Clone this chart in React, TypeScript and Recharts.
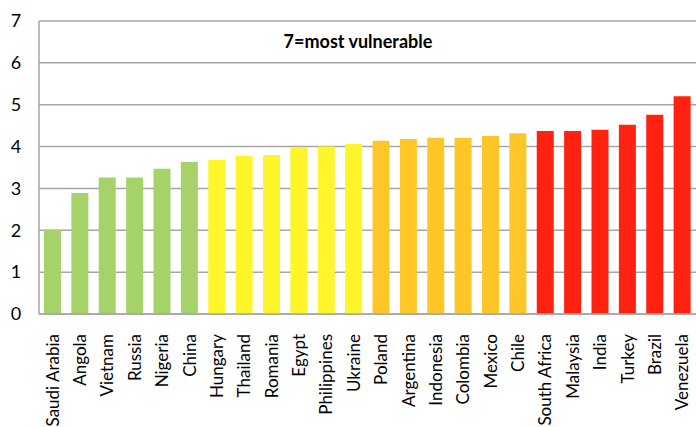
import * as React from 'react'
import { Bar, BarChart, CartesianGrid, Cell, Customized, XAxis, YAxis } from 'recharts'

const countries = [
  'Saudi Arabia', 'Angola', 'Vietnam', 'Russia', 'Nigeria', 'China',
  'Hungary', 'Thailand', 'Romania', 'Egypt', 'Philippines', 'Ukraine',
  'Poland', 'Argentina', 'Indonesia', 'Colombia', 'Mexico', 'Chile',
  'South Africa', 'Malaysia', 'India', 'Turkey', 'Brazil', 'Venezuela',
]
const scores = [
  2.01, 2.89, 3.26, 3.26, 3.47, 3.63,
  3.68, 3.78, 3.8, 3.99, 4.0, 4.06,
  4.14, 4.18, 4.21, 4.21, 4.25, 4.32,
  4.37, 4.37, 4.4, 4.52, 4.76, 5.2,
]
// vulnerability band of each country
const groups = [
  'low', 'low', 'low', 'low', 'low', 'low',
  'mid', 'mid', 'mid', 'mid', 'mid', 'mid',
  'high', 'high', 'high', 'high', 'high', 'high',
  'top', 'top', 'top', 'top', 'top', 'top',
]
const yTicks = [0, 1, 2, 3, 4, 5, 6, 7]
const title = '7=most vulnerable'

const groupColors: Record<string, string> = {
  low: '#a5d36a',
  mid: '#fff52b',
  high: '#ffc628',
  top: '#ff2211',
}

const data = countries.map((name, i) => ({ name, score: scores[i], group: groups[i] }))

const font = 'Lato, "Open Sans", sans-serif'
const gridColor = '#a6a6a6'

const XTick = (props: any) => {
  const { x, y, payload } = props
  return (
    <text
      x={x}
      y={y}
      dy="0.35em"
      textAnchor="end"
      transform={`rotate(-90, ${x}, ${y})`}
      fontFamily={font}
      fontSize={17}
      fill="#000"
    >
      {payload.value}
    </text>
  )
}

const YTick = (props: any) => {
  const { y, payload } = props
  return (
    <text x={16} y={y} dy="0.35em" textAnchor="middle" fontFamily={font} fontSize={18} fill="#000">
      {payload.value}
    </text>
  )
}

const Title = () => (
  <text x={358} y={48} textAnchor="middle" fontFamily={font} fontSize={18} fontWeight="bold" fill="#000">
    {title}
  </text>
)

export default function App() {
  return (
    <div style={{ position: 'absolute', left: 0, top: 0, width: 696, height: 427, background: '#fff' }}>
      <BarChart width={696} height={427} data={data} margin={{ top: 21, right: 0, bottom: 0, left: 0 }}>
        <CartesianGrid vertical={false} stroke={gridColor} strokeWidth={1.5} />
        <XAxis
          dataKey="name"
          interval={0}
          height={113}
          tick={<XTick />}
          tickLine={false}
          tickMargin={14}
          axisLine={{ stroke: gridColor, strokeWidth: 1.5 }}
        />
        <YAxis
          domain={[0, 7]}
          ticks={yTicks}
          width={39}
          tick={<YTick />}
          tickLine={false}
          axisLine={{ stroke: gridColor, strokeWidth: 1.5 }}
        />
        <Bar dataKey="score" barSize={17} isAnimationActive={false}>
          {data.map((d) => (
            <Cell key={d.name} fill={groupColors[d.group]} />
          ))}
        </Bar>
        <Customized component={Title} />
      </BarChart>
    </div>
  )
}
